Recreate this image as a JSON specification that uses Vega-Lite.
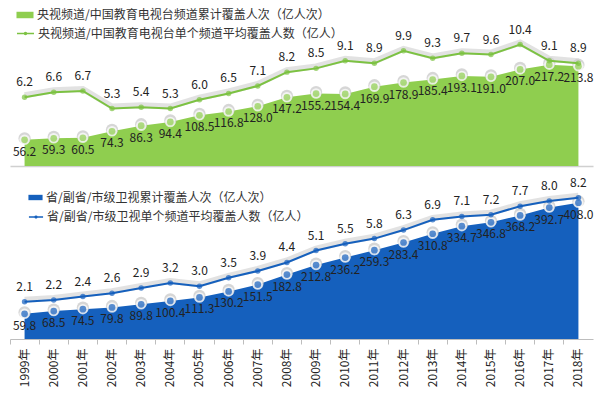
{
  "$schema": "https://vega.github.io/schema/vega-lite/v6.json",
  "padding": {"left": 9, "top": 5, "right": 3, "bottom": 0},
  "background": "white",
  "spacing": 10,
  "config": {
    "view": {"stroke": null},
    "font": "Noto Sans CJK SC",
    "text": {"font": "Noto Sans CJK SC"},
    "legend": {"labelFont": "Noto Sans CJK SC", "labelFontSize": 12, "labelColor": "#333333", "labelLimit": 500},
    "axis": {"labelFont": "Noto Sans CJK SC"}
  },
  "data": {"values": [
    {"year": "1999年", "c_cum": 56.2, "c_avg": 6.2, "p_cum": 59.8, "p_avg": 2.1},
    {"year": "2000年", "c_cum": 59.3, "c_avg": 6.6, "p_cum": 68.5, "p_avg": 2.2},
    {"year": "2001年", "c_cum": 60.5, "c_avg": 6.7, "p_cum": 74.5, "p_avg": 2.4},
    {"year": "2002年", "c_cum": 74.3, "c_avg": 5.3, "p_cum": 79.8, "p_avg": 2.6},
    {"year": "2003年", "c_cum": 86.3, "c_avg": 5.4, "p_cum": 89.8, "p_avg": 2.9},
    {"year": "2004年", "c_cum": 94.4, "c_avg": 5.3, "p_cum": 100.4, "p_avg": 3.2},
    {"year": "2005年", "c_cum": 108.5, "c_avg": 6.0, "p_cum": 111.3, "p_avg": 3.0},
    {"year": "2006年", "c_cum": 116.8, "c_avg": 6.5, "p_cum": 130.2, "p_avg": 3.5},
    {"year": "2007年", "c_cum": 128.0, "c_avg": 7.1, "p_cum": 151.5, "p_avg": 3.9},
    {"year": "2008年", "c_cum": 147.2, "c_avg": 8.2, "p_cum": 182.8, "p_avg": 4.4},
    {"year": "2009年", "c_cum": 155.2, "c_avg": 8.5, "p_cum": 212.8, "p_avg": 5.1},
    {"year": "2010年", "c_cum": 154.4, "c_avg": 9.1, "p_cum": 236.2, "p_avg": 5.5},
    {"year": "2011年", "c_cum": 169.9, "c_avg": 8.9, "p_cum": 259.3, "p_avg": 5.8},
    {"year": "2012年", "c_cum": 178.9, "c_avg": 9.9, "p_cum": 283.4, "p_avg": 6.3},
    {"year": "2013年", "c_cum": 185.4, "c_avg": 9.3, "p_cum": 310.8, "p_avg": 6.9},
    {"year": "2014年", "c_cum": 193.1, "c_avg": 9.7, "p_cum": 334.7, "p_avg": 7.1},
    {"year": "2015年", "c_cum": 191.0, "c_avg": 9.6, "p_cum": 346.8, "p_avg": 7.2},
    {"year": "2016年", "c_cum": 207.0, "c_avg": 10.4, "p_cum": 368.2, "p_avg": 7.7},
    {"year": "2017年", "c_cum": 217.2, "c_avg": 9.1, "p_cum": 392.7, "p_avg": 8.0},
    {"year": "2018年", "c_cum": 213.8, "c_avg": 8.9, "p_cum": 408.0, "p_avg": 8.2}
  ]},
  "resolve": {"scale": {"fill": "independent", "stroke": "independent"}, "legend": {"fill": "independent", "stroke": "independent"}},
  "vconcat": [
    {
      "width": 583,
      "height": 161,
      "encoding": {
        "x": {"field": "year", "type": "ordinal", "sort": null, "scale": {"type": "band", "paddingInner": 0, "paddingOuter": 0},
          "axis": {"labels": false, "ticks": false, "title": null, "domainColor": "#d0d0d0", "domainWidth": 1.5}}
      },
      "resolve": {"scale": {"y": "independent"}},
      "layer": [
        {
          "encoding": {"y": {"field": "c_cum", "type": "quantitative", "scale": {"domain": [0, 345], "nice": false, "zero": false}, "axis": null}},
          "layer": [
            {"mark": {"type": "area", "opacity": 1},
             "encoding": {"fill": {"datum": "央视频道/中国教育电视台频道累计覆盖人次（亿人次）", "type": "nominal", "scale": {"range": ["#8fce4f"]},
               "legend": {"title": null, "orient": "none", "legendX": 6, "legendY": 1, "symbolType": "M-1,-0.38H1V0.38H-1Z", "symbolSize": 290, "symbolStrokeWidth": 0, "labelOffset": 3}}}},
            {"mark": {"type": "point", "filled": true, "color": "#c4c4c4", "size": 150, "opacity": 0.7, "yOffset": -1.5}},
            {"mark": {"type": "point", "filled": true, "color": "white", "size": 110}},
            {"mark": {"type": "point", "filled": true, "color": "#8fce4f", "size": 45}},
            {"mark": {"type": "text", "dy": 12, "fontSize": 12, "color": "#222222"},
             "encoding": {"text": {"field": "c_cum", "type": "quantitative", "format": ".1f"}}}
          ]
        },
        {
          "encoding": {"y": {"field": "c_avg", "type": "quantitative", "scale": {"domain": [0.72, 13.55], "nice": false, "zero": false}, "axis": null}},
          "layer": [
            {"mark": {"type": "line", "color": "#cfcfcf", "strokeWidth": 6, "opacity": 0.6, "yOffset": -2}},
            {"mark": {"type": "line", "strokeWidth": 2},
             "encoding": {"stroke": {"datum": "央视频道/中国教育电视台单个频道平均覆盖人数（亿人）", "type": "nominal", "scale": {"range": ["#7cc242"]},
               "legend": {"title": null, "orient": "none", "legendX": 6, "legendY": 19, "symbolType": "M-1,0H1M-0.12,0A0.12,0.12 0 1,0 0.12,0A0.12,0.12 0 1,0 -0.12,0", "symbolSize": 290, "symbolStrokeWidth": 1.5, "labelOffset": 3}}}},
            {"mark": {"type": "point", "filled": true, "color": "#7cc242", "size": 30}},
            {"mark": {"type": "text", "dy": -15, "fontSize": 12, "color": "#222222"},
             "encoding": {"text": {"field": "c_avg", "type": "quantitative", "format": ".1f"}}}
          ]
        }
      ]
    },
    {
      "width": 583,
      "height": 157,
      "encoding": {
        "x": {"field": "year", "type": "ordinal", "sort": null, "scale": {"type": "band", "paddingInner": 0, "paddingOuter": 0},
          "axis": {"title": null, "labelAngle": -90, "labelFontSize": 12, "labelColor": "#222222", "labelPadding": 4,
            "bandPosition": 0, "ticks": true, "tickColor": "#bdbdbd", "tickSize": 5, "domainColor": "#bdbdbd", "domainWidth": 1}}
      },
      "resolve": {"scale": {"y": "independent"}},
      "layer": [
        {
          "encoding": {"y": {"field": "p_cum", "type": "quantitative", "scale": {"domain": [-19, 473], "nice": false, "zero": false}, "axis": null}},
          "layer": [
            {"mark": {"type": "area", "opacity": 1},
             "encoding": {"y2": {"datum": -19},
               "fill": {"datum": "省/副省/市级卫视累计覆盖人次（亿人次）", "type": "nominal", "scale": {"range": ["#1560bd"]},
               "legend": {"title": null, "orient": "none", "legendX": 18, "legendY": 8, "symbolType": "M-1,-0.38H1V0.38H-1Z", "symbolSize": 200, "symbolStrokeWidth": 0, "labelOffset": 3}}}},
            {"mark": {"type": "point", "filled": true, "color": "#c4c4c4", "size": 150, "opacity": 0.7, "yOffset": -1.5}},
            {"mark": {"type": "point", "filled": true, "color": "white", "size": 110}},
            {"mark": {"type": "point", "filled": true, "color": "#1560bd", "size": 45}},
            {"mark": {"type": "text", "dy": 12, "fontSize": 12, "color": "#222222"},
             "encoding": {"text": {"field": "p_cum", "type": "quantitative", "format": ".1f"}}}
          ]
        },
        {
          "encoding": {"y": {"field": "p_avg", "type": "quantitative", "scale": {"domain": [-0.09, 9.12], "nice": false, "zero": false}, "axis": null}},
          "layer": [
            {"mark": {"type": "line", "color": "#cfcfcf", "strokeWidth": 6, "opacity": 0.6, "yOffset": -2}},
            {"mark": {"type": "line", "strokeWidth": 2},
             "encoding": {"stroke": {"datum": "省/副省/市级卫视单个频道平均覆盖人数（亿人）", "type": "nominal", "scale": {"range": ["#1560bd"]},
               "legend": {"title": null, "orient": "none", "legendX": 18, "legendY": 27, "symbolType": "M-1,0H1M-0.12,0A0.12,0.12 0 1,0 0.12,0A0.12,0.12 0 1,0 -0.12,0", "symbolSize": 200, "symbolStrokeWidth": 1.5, "labelOffset": 3}}}},
            {"mark": {"type": "point", "filled": true, "color": "#1560bd", "size": 30}},
            {"mark": {"type": "text", "dy": -15, "fontSize": 12, "color": "#222222"},
             "encoding": {"text": {"field": "p_avg", "type": "quantitative", "format": ".1f"}}}
          ]
        }
      ]
    }
  ]
}
